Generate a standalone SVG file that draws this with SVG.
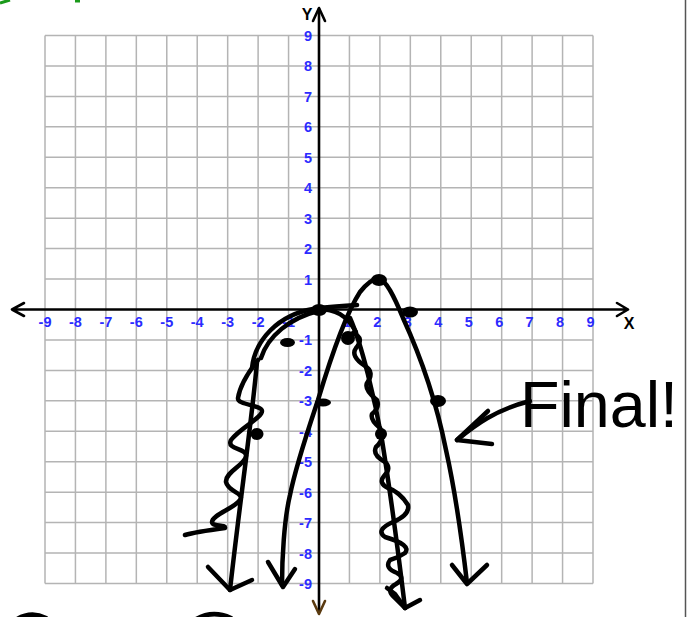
<svg xmlns="http://www.w3.org/2000/svg" width="689" height="617" viewBox="0 0 689 617">
<style>
.grid{fill:none;stroke:#b4b4b4;stroke-width:1.5}
.axis{fill:none;stroke:#000;stroke-width:2.6;stroke-linecap:round;stroke-linejoin:round}
.lbl{font-family:"Liberation Sans",Arial,sans-serif;font-weight:bold;font-size:14.5px;fill:#2b2bff}
.xl{text-anchor:middle}
.yl{text-anchor:end}
.ax{font-family:"Liberation Sans",Arial,sans-serif;font-weight:bold;font-size:16px;fill:#000;text-anchor:middle}
.ink{fill:none;stroke:#000;stroke-width:4.5;stroke-linecap:round;stroke-linejoin:round}
.dot{fill:#000}
</style>
<rect width="689" height="617" fill="#fff"/>
<g id="frame">
<line x1="685.5" y1="0" x2="685.5" y2="617" stroke="#555" stroke-width="1.5"/>
<path d="M0,3 Q5,1.5 10,0" fill="none" stroke="#1a9a1a" stroke-width="3"/>
<rect x="75" y="0" width="5" height="2.5" fill="#1a9a1a"/>
<path class="ink" d="M14,621 Q30,610 46,618"/>
<path class="ink" d="M193,621 Q211,609 231,618"/>
</g>
<g id="grid">
<path class="grid" d="M45,35.5V583.5M75.44,35.5V583.5M105.89,35.5V583.5M136.33,35.5V583.5M166.78,35.5V583.5M197.22,35.5V583.5M227.67,35.5V583.5M258.11,35.5V583.5M288.56,35.5V583.5M349.44,35.5V583.5M379.89,35.5V583.5M410.33,35.5V583.5M440.78,35.5V583.5M471.22,35.5V583.5M501.67,35.5V583.5M532.11,35.5V583.5M562.56,35.5V583.5M593,35.5V583.5M45,35.5H593M45,65.94H593M45,96.39H593M45,126.83H593M45,157.28H593M45,187.72H593M45,218.17H593M45,248.61H593M45,279.06H593M45,339.94H593M45,370.39H593M45,400.83H593M45,431.28H593M45,461.72H593M45,492.17H593M45,522.61H593M45,553.06H593M45,583.5H593"/>
</g>
<g id="labels">
<text class="lbl xl" x="45" y="327">-9</text>
<text class="lbl xl" x="75.4" y="327">-8</text>
<text class="lbl xl" x="105.9" y="327">-7</text>
<text class="lbl xl" x="136.3" y="327">-6</text>
<text class="lbl xl" x="166.8" y="327">-5</text>
<text class="lbl xl" x="197.2" y="327">-4</text>
<text class="lbl xl" x="227.7" y="327">-3</text>
<text class="lbl xl" x="258.1" y="327">-2</text>
<text class="lbl xl" x="288.6" y="327">-1</text>
<text class="lbl xl" x="347" y="327">1</text>
<text class="lbl xl" x="377.4" y="327">2</text>
<text class="lbl xl" x="407.8" y="327">3</text>
<text class="lbl xl" x="438.3" y="327">4</text>
<text class="lbl xl" x="468.7" y="327">5</text>
<text class="lbl xl" x="499.2" y="327">6</text>
<text class="lbl xl" x="529.6" y="327">7</text>
<text class="lbl xl" x="560" y="327">8</text>
<text class="lbl xl" x="590.5" y="327">9</text>
<text class="lbl yl" x="312" y="41">9</text>
<text class="lbl yl" x="312" y="71.4">8</text>
<text class="lbl yl" x="312" y="101.9">7</text>
<text class="lbl yl" x="312" y="132.3">6</text>
<text class="lbl yl" x="312" y="162.8">5</text>
<text class="lbl yl" x="312" y="193.2">4</text>
<text class="lbl yl" x="312" y="223.7">3</text>
<text class="lbl yl" x="312" y="254.1">2</text>
<text class="lbl yl" x="312" y="284.6">1</text>
<text class="lbl yl" x="312" y="345.4">-1</text>
<text class="lbl yl" x="312" y="375.9">-2</text>
<text class="lbl yl" x="312" y="406.3">-3</text>
<text class="lbl yl" x="312" y="436.8">-4</text>
<text class="lbl yl" x="312" y="467.2">-5</text>
<text class="lbl yl" x="312" y="497.7">-6</text>
<text class="lbl yl" x="312" y="528.1">-7</text>
<text class="lbl yl" x="312" y="558.6">-8</text>
<text class="lbl yl" x="312" y="589">-9</text>
</g>
<g id="axes">
<path class="axis" d="M12,309.5H628M24,303L12,309.5L24,316M617,303L628,309.5L617,316"/>
<path class="axis" d="M319,9V612" stroke-width="3"/>
<path class="axis" d="M313,21L319,8L325,21" stroke-width="3"/>
<path d="M313,601L319,614L325,601" fill="none" stroke="#5a3a10" stroke-width="2.6" stroke-linecap="round" stroke-linejoin="round"/>
<text class="ax" x="307" y="20">Y</text>
<text class="ax" x="629" y="329">X</text>
</g>
<g id="curves">
<g id="curve-final">
<path class="ink" d="M282,585 C282,560 284,520 290,495 C296,465 308,430 318,400 C330,360 345,315 360,292 C367,283 373,278 379,279 C386,280 394,296 403,318 C420,355 436,400 446,450 C456,495 462,540 467,583"/>
<path class="ink" d="M268,562L283,587L295,569"/>
<path class="ink" d="M452,565L467,584L487,565"/>
</g>
<g id="curve-reflect">
<path class="ink" d="M252,368 C255,340 278,315 313,309 C330,306 345,306 357,305"/>
<path class="ink" d="M318,309 C335,309 347,315 356,332"/>
<path class="ink" d="M261,358 C268,336 290,318 318,311"/>
<path class="ink" d="M257,362 C252,420 240,500 230,590"/>
<path class="ink" d="M208,567L230,590L252,580"/>
<path class="ink" d="M350,318 C362,345 375,400 382,440 C390,490 398,550 405,608"/>
<path class="ink" d="M387,588L395,594L405,608L420,600"/>
</g>
<g id="squiggles">
<path class="ink" d="M258,360 C250,370 240,385 238,398 C237,405 262,405 262,411 C262,418 240,428 231,440 C226,450 247,448 246,456 C245,465 225,472 226,482 C228,492 245,493 240,500 C235,508 212,515 212,522 C212,527 226,524 225,528 C210,530 195,532 185,535"/>
<path class="ink" d="M353,333 Q365,338 356,348 Q350,356 365,366 Q375,372 367,383 Q364,390 377,400 Q380,408 372,414 Q370,420 380,428 Q386,438 376,447 Q372,455 385,462 Q392,468 384,476 Q378,483 388,488 Q400,492 408,505 Q410,515 393,522 Q375,530 385,537 Q412,545 405,553 Q398,558 390,560 Q384,568 397,573 Q406,578 396,584 Q385,590 395,598 L405,608"/>
</g>
</g>
<g id="points">
<ellipse class="dot" cx="379" cy="280" rx="8" ry="6"/>
<ellipse class="dot" cx="410" cy="312" rx="8" ry="5.5"/>
<ellipse class="dot" cx="319" cy="310" rx="8" ry="6"/>
<ellipse class="dot" cx="287.5" cy="342.5" rx="7.5" ry="4.5"/>
<ellipse class="dot" cx="348" cy="338" rx="7" ry="7"/>
<ellipse class="dot" cx="323" cy="402.5" rx="8" ry="4"/>
<ellipse class="dot" cx="381" cy="434" rx="6" ry="6"/>
<ellipse class="dot" cx="257" cy="434" rx="6.5" ry="6"/>
<ellipse class="dot" cx="438" cy="401" rx="8" ry="6"/>
</g>
<g id="annotation">
<path class="ink" d="M457,440 C475,425 495,410 530,401"/>
<path class="ink" d="M488,411L457,440L492,444"/>
<text x="520" y="427" font-family="Liberation Sans,Arial,sans-serif" font-size="64" textLength="158" lengthAdjust="spacingAndGlyphs" fill="#000">Final!</text>
</g>
</svg>
